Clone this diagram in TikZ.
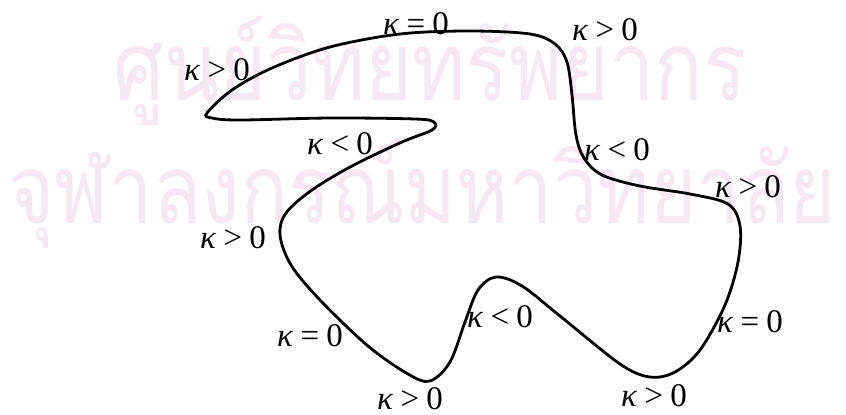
\documentclass[tikz,border=0pt]{standalone}
\usepackage{fontspec}
\setmainfont{Liberation Serif}
\newfontfamily\thaifont[Script=Thai]{Loma}
\definecolor{wmark}{RGB}{246,231,240}
\newcommand{\kap}[1]{\textit{κ}\:#1\:0}
\begin{document}
\begin{tikzpicture}[x=0.5pt,y=-0.5pt,
  lab/.style={inner sep=0pt,font=\fontsize{16.5}{18}\selectfont},
  wm/.style={inner sep=0pt,text=wmark,font=\thaifont\fontsize{48}{52}\selectfont}]
\useasboundingbox (0,0) rectangle (846,414);
\fill[white] (0,0) rectangle (846,414);

% watermark
\node[wm,anchor=base west,xscale=0.84] (wm1) at (113,100) {ศูนย์วิทยทรัพยากร};
\node[wm,anchor=base west,xscale=0.825] (wm2) at (8,223) {จุฬาลงกรณ์มหาวิทยาลัย};

% the closed curve
\draw[line width=1.4pt] plot[smooth cycle,tension=0.55] coordinates {
  (207,113) (232,90) (272,68) (330,47) (400,34) (470,31) (530,34)
  (555,44) (567,62) (572,95) (576,135) (584,158) (602,175) (640,186)
  (690,194) (728,204) (740,226) (738,262) (725,305) (700,350) (675,372)
  (650,377) (620,364) (560,316) (522,286) (496,277) (478,290) (465,322)
  (450,362) (430,381) (408,374) (368,346) (320,300) (291,265) (280,235)
  (286,213) (312,190) (352,166) (402,142) (432,130) (434,122) (415,119)
  (330,118) (240,120) (212,118)};

% labels
\node[lab] (k1) at (217,70) {\kap{>}};
\node[lab] (k2) at (416,24) {\kap{=}};
\node[lab] (k3) at (605,30) {\kap{>}};
\node[lab] (k4) at (340,144) {\kap{<}};
\node[lab] (k5) at (617,150) {\kap{<}};
\node[lab] (k6) at (748,187) {\kap{>}};
\node[lab] (k7) at (233,238) {\kap{>}};
\node[lab] (k8) at (310,336) {\kap{=}};
\node[lab] (k9) at (500,317) {\kap{<}};
\node[lab] (k10) at (750,322) {\kap{=}};
\node[lab] (k11) at (410,399) {\kap{>}};
\node[lab] (k12) at (654,396) {\kap{>}};
\end{tikzpicture}
\end{document}
